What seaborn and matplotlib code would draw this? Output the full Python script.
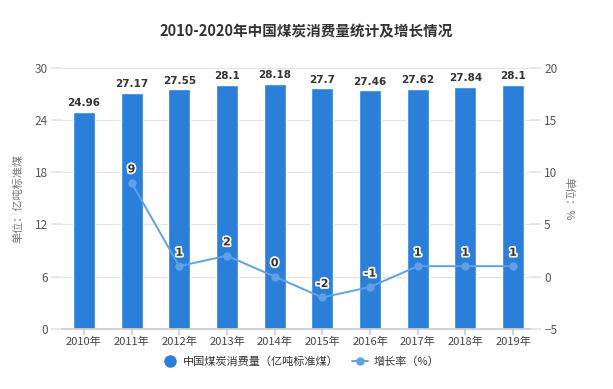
import pandas as pd
import matplotlib.pyplot as plt
import matplotlib.patheffects as pe
from matplotlib.lines import Line2D
import seaborn as sns

years = ["2010年", "2011年", "2012年", "2013年", "2014年",
         "2015年", "2016年", "2017年", "2018年", "2019年"]
consumption = [24.96, 27.17, 27.55, 28.1, 28.18, 27.7, 27.46, 27.62, 27.84, 28.1]
growth = [None, 9, 1, 2, 0, -2, -1, 1, 1, 1]

BAR_COLOR = "#2b7fd8"
LINE_COLOR = "#5fa0e6"

sns.set_theme(style="white")
plt.rcParams["font.family"] = ["Noto Sans CJK SC", "DejaVu Sans"]

df = pd.DataFrame({"年份": years, "消费量": consumption, "增长率": growth})
df["x"] = range(len(df))

fig, ax = plt.subplots(figsize=(6.13, 3.89), dpi=100)
fig.subplots_adjust(left=0.101, right=0.865, top=0.825, bottom=0.155)

sns.barplot(data=df, x="年份", y="消费量", color=BAR_COLOR, width=0.46,
            saturation=1, ax=ax)
ax.set_ylim(0, 30)
ax.set_yticks([0, 6, 12, 18, 24, 30])
ax.set_xlim(-0.46, 9.36)
ax.grid(axis="y", color="#e3e3e3", linewidth=0.8)
ax.set_axisbelow(True)
for s in ["top", "right", "left"]:
    ax.spines[s].set_visible(False)
ax.spines["bottom"].set_color("#cccccc")
ax.tick_params(axis="y", length=8, color="#e3e3e3", labelsize=8.5,
               labelcolor="#555555", pad=2)
ax.tick_params(axis="x", length=4, color="#cccccc", labelsize=8,
               labelcolor="#444444", pad=2, bottom=True)
ax.set_xlabel("")
ax.set_ylabel("单位：亿吨标准煤", fontsize=8, color="#777777", labelpad=8)

for i, v in enumerate(consumption):
    ax.text(i, v + 0.4, f"{v:g}", ha="center", va="bottom", fontsize=7.5,
            fontweight="bold", color="#333333", family="DejaVu Sans")

ax2 = ax.twinx()
line_df = df.dropna(subset=["增长率"])
sns.lineplot(data=line_df, x="x", y="增长率", color=LINE_COLOR, marker="o",
             markersize=6, markeredgewidth=0, linewidth=1.4, ax=ax2)
ax2.set_ylim(-5, 20)
ax2.set_yticks([-5, 0, 5, 10, 15, 20])
for s in ax2.spines.values():
    s.set_visible(False)
ax2.tick_params(axis="y", length=8, color="#e3e3e3", labelsize=8.5,
                labelcolor="#555555", pad=2)
ax2.set_ylabel("单位：%", fontsize=8, color="#777777", rotation=270,
               labelpad=12)
ax2.set_xlabel("")

for x, g in zip(line_df["x"], line_df["增长率"]):
    ax2.text(x, g + 0.8, f"{g:g}", ha="center", va="bottom", fontsize=8,
             fontweight="bold", color="#333333", family="DejaVu Sans",
             path_effects=[pe.withStroke(linewidth=2.5, foreground="white")])

fig.suptitle("2010-2020年中国煤炭消费量统计及增长情况", x=0.5, y=0.94,
             fontsize=10.5, fontweight="bold", color="#333333")

handles = [
    Line2D([], [], marker="o", linestyle="none", color=BAR_COLOR, markersize=8),
    Line2D([], [], marker="o", color=LINE_COLOR, markersize=5, linewidth=1.4),
]
fig.legend(handles, ["中国煤炭消费量（亿吨标准煤）", "增长率（%）"], loc="center",
           bbox_to_anchor=(0.49, 0.07), ncol=2, frameon=False, fontsize=8,
           handlelength=1.4, handletextpad=0.5, columnspacing=1.2,
           labelcolor="#333333")

fig.savefig("out.png", dpi=100, facecolor="white")
